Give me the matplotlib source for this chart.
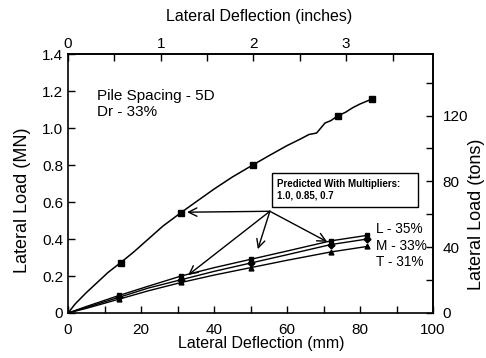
import matplotlib.pyplot as plt
from matplotlib.patches import Rectangle
from matplotlib.ticker import MultipleLocator

plt.rcParams.update({
    'font.family': ['Liberation Sans', 'DejaVu Sans'],
    'font.size': 10,
    'xtick.direction': 'in',
    'ytick.direction': 'in',
    'axes.linewidth': 1.2,
})

MN_PER_TON = 0.008896   # short ton-force in MN
MM_PER_INCH = 25.4

# single pile, measured load-deflection
single_x = [0, 2, 5, 8, 11, 14.4, 18, 22, 26, 30.9, 35, 40, 45, 50.6, 55, 60,
            63.6, 66, 68.1, 70.4, 72, 73.9, 76, 78, 80, 83.3]
single_y = [0, 0.05, 0.11, 0.165, 0.22, 0.272, 0.33, 0.40, 0.47, 0.542, 0.60, 0.67,
            0.735, 0.80, 0.85, 0.905, 0.94, 0.965, 0.973, 1.027, 1.04, 1.066,
            1.085, 1.11, 1.13, 1.157]
single_marks = [5, 9, 13, 21, 25]

# group piles: leading, middle, trailing rows
group_x = [0, 5, 14, 22, 31, 40, 50, 60, 72, 82]
lead_y = [0, 0.035, 0.095, 0.145, 0.20, 0.245, 0.29, 0.335, 0.39, 0.42]
mid_y = [0, 0.030, 0.085, 0.135, 0.18, 0.225, 0.27, 0.315, 0.37, 0.40]
trail_y = [0, 0.025, 0.075, 0.120, 0.165, 0.205, 0.245, 0.285, 0.33, 0.36]
group_marks = [2, 4, 6, 8, 9]
row_labels = ['L - 35%', 'M - 33%', 'T - 31%']
row_label_y = [0.455, 0.362, 0.277]

fig = plt.figure(figsize=(4.86, 3.58), dpi=100)
ax = fig.add_axes([0.140, 0.1257, 0.751, 0.7233])

ax.plot(single_x, single_y, color='black', lw=1.1, marker='s', ms=4,
        markevery=single_marks)
for ys, mk in zip([lead_y, mid_y, trail_y], ['s', 'D', '^']):
    ax.plot(group_x, ys, color='black', lw=1.0, marker=mk, ms=3.5,
            markevery=group_marks)

for lab, ly in zip(row_labels, row_label_y):
    ax.text(84.3, ly, lab, fontsize=9.8, va='center', ha='left')

ax.text(7.8, 1.13, 'Pile Spacing - 5D\nDr - 33%', fontsize=11,
        va='center', ha='left', linespacing=1.2)

# annotation box with arrows to the predicted points
ax.add_patch(Rectangle((55.9, 0.573), 40.0, 0.184, fc='white', ec='black',
                       lw=1.0, zorder=3))
ax.text(57.3, 0.665, 'Predicted With Multipliers:\n1.0, 0.85, 0.7',
        fontsize=7, fontweight='bold', va='center', ha='left', zorder=4)
start = (55.3, 0.55)
targets = [(32.6, 0.545), (32.9, 0.205), (52.0, 0.345), (71.0, 0.385)]
for tx, ty in targets:
    ax.annotate('', xy=(tx, ty), xytext=start,
                arrowprops=dict(arrowstyle='->,head_length=0.6,head_width=0.3',
                                color='black', lw=1.0, shrinkA=0, shrinkB=0))

ax.set_xlim(0, 100)
ax.set_ylim(0, 1.4)
ax.xaxis.set_major_locator(MultipleLocator(20))
ax.xaxis.set_minor_locator(MultipleLocator(10))
ax.set_yticks([0, 0.2, 0.4, 0.6, 0.8, 1.0, 1.2, 1.4])
ax.set_yticklabels(['0', '0.2', '0.4', '0.6', '0.8', '1.0', '1.2', '1.4'])
ax.tick_params(which='both', length=5, width=1.0, labelsize=11)
ax.tick_params(axis='x', pad=7)

top = ax.secondary_xaxis('top', functions=(lambda v: v / MM_PER_INCH,
                                           lambda v: v * MM_PER_INCH))
top.xaxis.set_major_locator(MultipleLocator(1))
top.xaxis.set_minor_locator(MultipleLocator(0.5))
top.tick_params(which='both', direction='in', length=5, width=1.0, labelsize=11, pad=2)

right = ax.secondary_yaxis('right', functions=(lambda v: v / MN_PER_TON,
                                               lambda v: v * MN_PER_TON))
right.yaxis.set_major_locator(MultipleLocator(40))
right.yaxis.set_minor_locator(MultipleLocator(20))
right.tick_params(which='both', direction='in', length=5, width=1.0, labelsize=11, pad=7)

# axis titles
fig.text(0.533, 0.955, 'Lateral Deflection (inches)', fontsize=11.5,
         ha='center', va='center')
fig.text(0.537, 0.04, 'Lateral Deflection (mm)', fontsize=11.5,
         ha='center', va='center')
fig.text(0.047, 0.44, 'Lateral Load (MN)', fontsize=13, rotation=90,
         ha='center', va='center')
fig.text(0.980, 0.40, 'Lateral Load (tons)', fontsize=13, rotation=90,
         ha='center', va='center')

fig.savefig('out.png', dpi=100)
